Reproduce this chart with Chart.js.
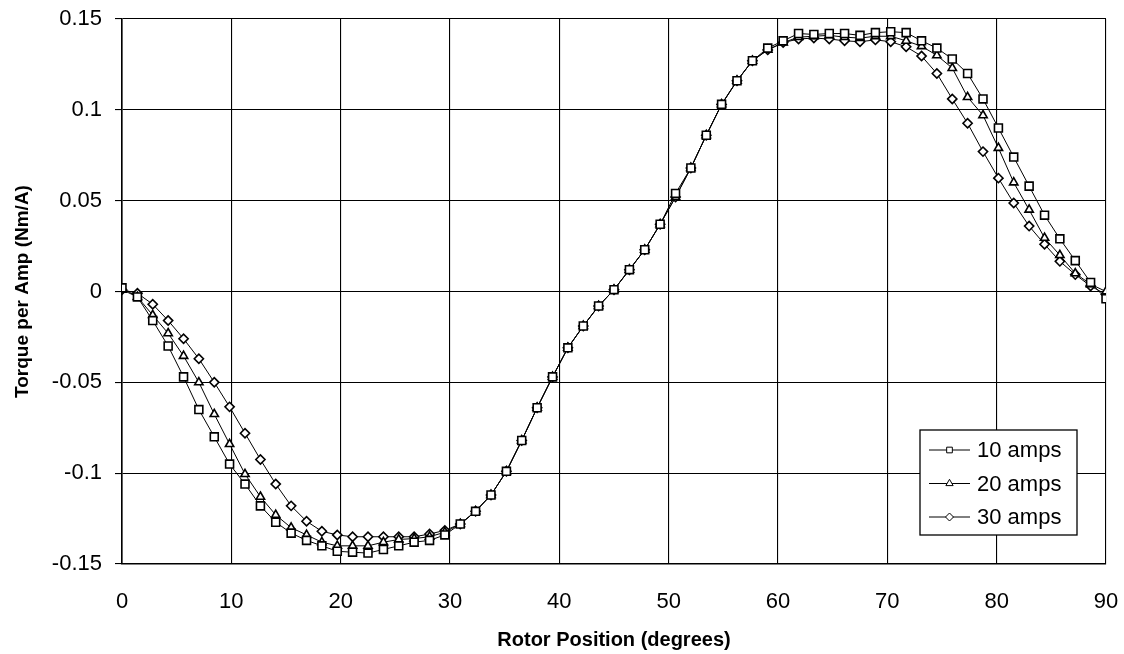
<!DOCTYPE html>
<html>
<head>
<meta charset="utf-8">
<script src="https://cdn.jsdelivr.net/npm/chart.js@4/dist/chart.umd.min.js"></script>
<style>
    html, body { margin: 0; padding: 0; background: #fff; }
    #wrap { width: 1124px; height: 654px; }
</style>
</head>
<body>
<div id="wrap"><canvas id="chartTorque" width="1124" height="654"></canvas></div>
<script>
// rotor positions (degrees)
const positions = [0, 1.41, 2.81, 4.22, 5.63, 7.03, 8.44, 9.84, 11.25, 12.66, 14.06, 15.47, 16.88,
    18.28, 19.69, 21.09, 22.5, 23.91, 25.31, 26.72, 28.13, 29.53, 30.94, 32.34, 33.75, 35.16,
    36.56, 37.97, 39.38, 40.78, 42.19, 43.59, 45, 46.41, 47.81, 49.22, 50.63, 52.03, 53.44,
    54.84, 56.25, 57.66, 59.06, 60.47, 61.88, 63.28, 64.69, 66.09, 67.5, 68.91, 70.31, 71.72,
    73.13, 74.53, 75.94, 77.34, 78.75, 80.16, 81.56, 82.97, 84.38, 85.78, 87.19, 88.59, 90];

// torque per amp (Nm/A)
const amps10 = [0.002, -0.003, -0.016, -0.030, -0.047, -0.065, -0.080, -0.095, -0.106, -0.118,
    -0.127, -0.133, -0.137, -0.140, -0.143, -0.1435, -0.144, -0.142, -0.140, -0.138, -0.137,
    -0.134, -0.128, -0.121, -0.112, -0.099, -0.082, -0.064, -0.047, -0.031, -0.019, -0.008,
    0.001, 0.012, 0.023, 0.037, 0.054, 0.068, 0.086, 0.103, 0.116, 0.127, 0.134, 0.138,
    0.142, 0.1415, 0.142, 0.142, 0.141, 0.1425, 0.143, 0.1425, 0.138, 0.134, 0.128, 0.120,
    0.106, 0.090, 0.074, 0.058, 0.042, 0.029, 0.017, 0.005, -0.004];

const amps20 = [0.001, -0.003, -0.013, -0.023, -0.0355, -0.050, -0.0675, -0.084, -0.1005, -0.113,
    -0.123, -0.130, -0.134, -0.138, -0.140, -0.140, -0.140, -0.138, -0.1365, -0.136, -0.135,
    -0.1325, -0.128, -0.121, -0.112, -0.099, -0.082, -0.064, -0.047, -0.031, -0.019, -0.008,
    0.001, 0.012, 0.023, 0.037, 0.052, 0.068, 0.086, 0.103, 0.116, 0.127, 0.133, 0.137,
    0.140, 0.1405, 0.141, 0.140, 0.1395, 0.1405, 0.1405, 0.138, 0.135, 0.130, 0.123, 0.107,
    0.097, 0.079, 0.060, 0.045, 0.0295, 0.020, 0.010, 0.004, 0.000];

const amps30 = [0.001, -0.001, -0.007, -0.016, -0.026, -0.037, -0.050, -0.0635, -0.078, -0.0925,
    -0.106, -0.118, -0.1265, -0.132, -0.134, -0.135, -0.135, -0.135, -0.135, -0.135, -0.1335,
    -0.1315, -0.128, -0.121, -0.112, -0.099, -0.082, -0.064, -0.047, -0.031, -0.019, -0.008,
    0.001, 0.012, 0.023, 0.037, 0.052, 0.068, 0.086, 0.103, 0.116, 0.127, 0.133, 0.137,
    0.139, 0.1395, 0.139, 0.138, 0.1375, 0.1385, 0.1375, 0.1347, 0.1296, 0.120, 0.106, 0.0926,
    0.077, 0.0624, 0.0487, 0.036, 0.026, 0.0166, 0.0093, 0.003, -0.0016];

const seriesLabels = ["10 amps", "20 amps", "30 amps"];

const xTicks = [0, 10, 20, 30, 40, 50, 60, 70, 80, 90];
const yTicks = [-0.15, -0.1, -0.05, 0, 0.05, 0.1, 0.15];
const yTickLabels = ["-0.15", "-0.1", "-0.05", "0", "0.05", "0.1", "0.15"];

const FONT = "'Liberation Sans', Arial, sans-serif";

function toPoints(ys) {
    return ys.map((y, i) => ({ x: positions[i], y: y }));
}

function makeSet(label, ys, style, radius) {
    return {
        label: label,
        data: toPoints(ys),
        borderColor: "#000",
        borderWidth: 1,
        backgroundColor: "#fff",
        pointStyle: style,
        pointRadius: radius,
        pointBorderWidth: 1.6,
        pointBorderColor: "#000",
        pointBackgroundColor: "#fff",
        tension: 0
    };
}

// legend inside the plot, drawn with a line through each marker
const boxLegend = {
    id: "boxLegend",
    afterDraw(chart) {
        const ctx = chart.ctx;
        const x0 = 920, y0 = 430, w = 157, h = 105;
        ctx.save();
        ctx.fillStyle = "#fff";
        ctx.fillRect(x0, y0, w, h);
        ctx.strokeStyle = "#000";
        ctx.lineWidth = 1.3;
        ctx.strokeRect(x0, y0, w, h);
        const legendRadius = [4, 4.2, 4];
        chart.data.datasets.forEach((ds, i) => {
            const y = y0 + 20 + i * 33.5;
            ctx.strokeStyle = "#000";
            ctx.lineWidth = 1;
            ctx.beginPath();
            ctx.moveTo(929, y);
            ctx.lineTo(970, y);
            ctx.stroke();
            ctx.fillStyle = "#fff";
            Chart.helpers.drawPoint(ctx, {
                pointStyle: ds.pointStyle,
                radius: legendRadius[i],
                rotation: 0,
                borderWidth: 1.3
            }, 949.5, y);
            ctx.fillStyle = "#000";
            ctx.font = "22px " + FONT;
            ctx.textBaseline = "middle";
            ctx.textAlign = "left";
            ctx.fillText(ds.label, 977, y + 1);
        });
        ctx.restore();
    }
};

new Chart(document.getElementById("chartTorque"), {
    type: "line",
    data: {
        datasets: [
            makeSet(seriesLabels[0], amps10, "rect", 5.6),
            makeSet(seriesLabels[1], amps20, "triangle", 4.8),
            makeSet(seriesLabels[2], amps30, "rectRot", 4.6)
        ]
    },
    options: {
        responsive: false,
        animation: false,
        layout: { padding: { left: 0, top: 19, right: 18, bottom: 0 } },
        plugins: {
            legend: { display: false },
            tooltip: { enabled: false }
        },
        scales: {
            x: {
                type: "linear",
                min: 0,
                max: 90,
                afterFit: (scale) => {
                    scale.height = 90;
                    scale.paddingLeft = 0;
                    scale.paddingRight = 0;
                },
                afterBuildTicks: (scale) => { scale.ticks = xTicks.map(v => ({ value: v })); },
                grid: { color: "#000", lineWidth: 1.1, drawTicks: false },
                border: { color: "#000", width: 1.6 },
                ticks: {
                    color: "#000",
                    padding: 25,
                    maxRotation: 0,
                    font: { family: FONT, size: 22 },
                    callback: (value) => String(value)
                },
                title: {
                    display: true,
                    text: "Rotor Position (degrees)",
                    color: "#000",
                    font: { family: FONT, size: 20, weight: "bold" },
                    padding: { top: 0, bottom: 2 }
                }
            },
            y: {
                type: "linear",
                min: -0.15,
                max: 0.15,
                afterFit: (scale) => {
                    scale.width = 122;
                    scale.paddingTop = 0;
                    scale.paddingBottom = 0;
                },
                afterBuildTicks: (scale) => { scale.ticks = yTicks.map(v => ({ value: v })); },
                grid: { color: "#000", lineWidth: 1.1, tickLength: 7 },
                border: { color: "#000", width: 1.6 },
                ticks: {
                    color: "#000",
                    padding: 13,
                    font: { family: FONT, size: 22 },
                    callback: (value, index) => yTickLabels[index]
                },
                title: {
                    display: true,
                    text: "Torque per Amp (Nm/A)",
                    color: "#000",
                    font: { family: FONT, size: 19, weight: "bold" },
                    padding: { top: 11, bottom: 0 }
                }
            }
        }
    },
    plugins: [boxLegend]
});
</script>
</body>
</html>
